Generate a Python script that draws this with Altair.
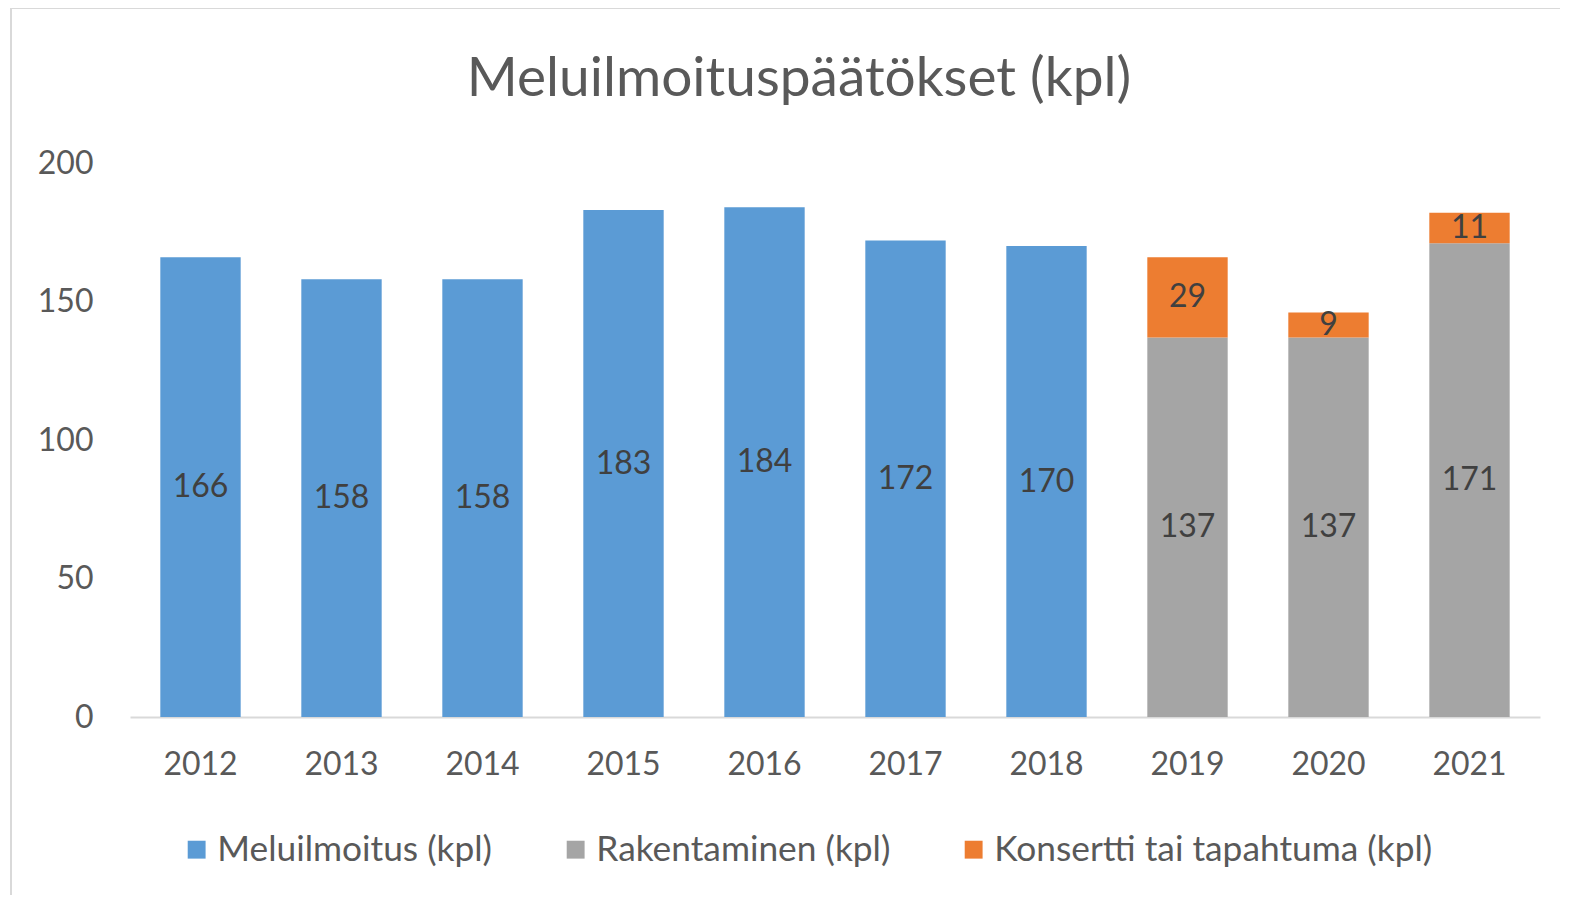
import altair as alt
import pandas as pd

years = ["2012", "2013", "2014", "2015", "2016", "2017", "2018", "2019", "2020", "2021"]
meluilmoitus = [166, 158, 158, 183, 184, 172, 170]
rakentaminen = [137, 137, 171]
konsertti = [29, 9, 11]
series = ["Meluilmoitus (kpl)", "Rakentaminen (kpl)", "Konsertti tai tapahtuma (kpl)"]
colors = ["#5b9bd5", "#a5a5a5", "#ed7d31"]
y_ticks = [0, 50, 100, 150, 200]
title_text = "Meluilmoituspäätökset (kpl)"

rows = []
for yr, v in zip(years[:7], meluilmoitus):
    rows.append({"year": yr, "series": series[0], "idx": 0, "value": v})
for yr, v in zip(years[7:], rakentaminen):
    rows.append({"year": yr, "series": series[1], "idx": 1, "value": v})
for yr, v in zip(years[7:], konsertti):
    rows.append({"year": yr, "series": series[2], "idx": 2, "value": v})
df = pd.DataFrame(rows)

FONT = "Lato"

base = alt.Chart(df).transform_stack(
    stack="value", groupby=["year"], as_=["y0", "y1"],
    sort=[alt.SortField("idx", order="ascending")]
).transform_calculate(mid="(datum.y0 + datum.y1) / 2")

xenc = alt.X("year:N", sort=years,
             scale=alt.Scale(paddingInner=0.43, paddingOuter=0.215),
             axis=alt.Axis(title=None, labelAngle=0, ticks=False, domainColor="#d9d9d9",
                           domainWidth=2, labelPadding=32, labelFontSize=32,
                           labelColor="#595959", labelFont=FONT, grid=False))

bars = base.mark_bar().encode(
    x=xenc,
    y=alt.Y("y0:Q", scale=alt.Scale(domain=[0, 200], nice=False),
            axis=alt.Axis(title=None, values=y_ticks, domain=False, ticks=False, grid=False,
                          labelPadding=37, labelFontSize=32, labelColor="#595959", labelFont=FONT)),
    y2="y1:Q",
    color=alt.Color("series:N", scale=alt.Scale(domain=series, range=colors),
                    legend=alt.Legend(title=None, orient="none", legendX=49, legendY=669,
                                      direction="horizontal", symbolType="square", symbolSize=320,
                                      symbolStrokeWidth=0, labelFontSize=35.3, labelColor="#595959",
                                      labelFont=FONT, columnPadding=65, labelOffset=3,
                                      labelLimit=0)),
)

text = base.mark_text(fontSize=32, color="#404040", font=FONT).encode(
    x=alt.X("year:N", sort=years),
    y=alt.Y("mid:Q"),
    text="value:Q",
)

border = alt.Chart(pd.DataFrame({"b": [0]})).mark_rect(
    fill=None, stroke="#d9d9d9", strokeWidth=2
).encode(x=alt.value(-119), x2=alt.value(1480), y=alt.value(-155), y2=alt.value(800))

title = alt.Chart(pd.DataFrame({"t": [title_text]})).mark_text(
    fontSize=55, color="#595959", font=FONT, baseline="middle", align="center"
).encode(x=alt.value(669), y=alt.value(-84), text="t:N")

chart = alt.layer(border, title, bars, text).properties(
    width=1410, height=554,
    padding={"left": 122, "top": 155, "right": 20, "bottom": 178},
    autosize=alt.AutoSizeParams(type="none"),
).configure_view(stroke=None)

chart.save("out.html", embed_options={"renderer": "svg", "actions": False})
